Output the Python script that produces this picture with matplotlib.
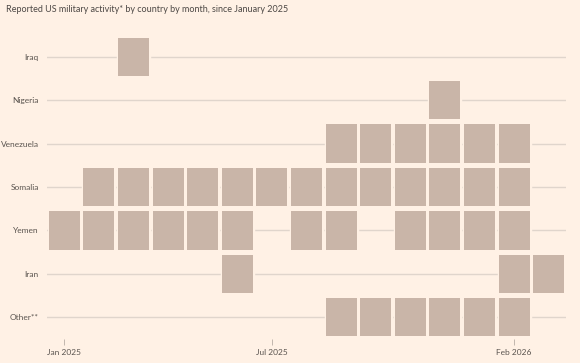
import matplotlib
matplotlib.use("Agg")
import matplotlib.pyplot as plt
from matplotlib.patches import Rectangle

months = ["Jan 2025","Feb 2025","Mar 2025","Apr 2025","May 2025","Jun 2025","Jul 2025",
          "Aug 2025","Sep 2025","Oct 2025","Nov 2025","Dec 2025","Jan 2026","Feb 2026","Mar 2026"]
countries = ["Iraq","Nigeria","Venezuela","Somalia","Yemen","Iran","Other**"]
activity = {
    "Iraq":      [0,0,1,0,0,0,0,0,0,0,0,0,0,0,0],
    "Nigeria":   [0,0,0,0,0,0,0,0,0,0,0,1,0,0,0],
    "Venezuela": [0,0,0,0,0,0,0,0,1,1,1,1,1,1,0],
    "Somalia":   [0,1,1,1,1,1,1,1,1,1,1,1,1,1,0],
    "Yemen":     [1,1,1,1,1,1,0,1,1,0,1,1,1,1,0],
    "Iran":      [0,0,0,0,0,1,0,0,0,0,0,0,0,1,1],
    "Other**":   [0,0,0,0,0,0,0,0,1,1,1,1,1,1,0],
}
tick_months = ["Jan 2025", "Jul 2025", "Feb 2026"]

BG = "#FFF1E5"
SQ = "#C9B5A8"
GRID = "#E0D5CC"
TXT = "#5A544F"

plt.rcParams['font.family'] = ['Lato', 'DejaVu Sans']
fig = plt.figure(figsize=(5.8, 3.63), dpi=100, facecolor=BG)
ax = fig.add_axes([47/580, 1-339/363, (566-47)/580, (339-35)/363])
ax.set_facecolor(BG)

n = len(countries)
for i, c in enumerate(countries):
    y = n - 1 - i
    ax.axhline(y, color=GRID, lw=1, zorder=1)
    for j, v in enumerate(activity[c]):
        if v:
            w, h = 0.90, 0.88
            ax.add_patch(Rectangle((j - w/2, y - h/2), w, h, facecolor=SQ,
                                   edgecolor=BG, lw=2.5, zorder=2))
            ax.add_patch(Rectangle((j - w/2, y - h/2), w, h, facecolor=SQ,
                                   edgecolor="none", zorder=3))

ax.set_xlim(-0.5, len(months) - 0.5)
ax.set_ylim(-0.5, n - 0.5)
ax.set_yticks(range(n))
ax.set_yticklabels(countries[::-1])
ax.set_xticks([months.index(m) for m in tick_months])
ax.set_xticklabels(tick_months)
for s in ax.spines.values():
    s.set_visible(False)
ax.tick_params(axis='y', length=0, pad=6, labelsize=6.0, labelcolor=TXT)
ax.tick_params(axis='x', length=4, width=0.6, color="#B8ADA5", pad=3, labelsize=6.0, labelcolor=TXT)

fig.text(6/580, 1-10/363, "Reported US military activity* by country by month, since January 2025",
         fontsize=6.5, color="#4D4845", va="center", ha="left")

fig.savefig("out.png", dpi=100, facecolor=BG)
